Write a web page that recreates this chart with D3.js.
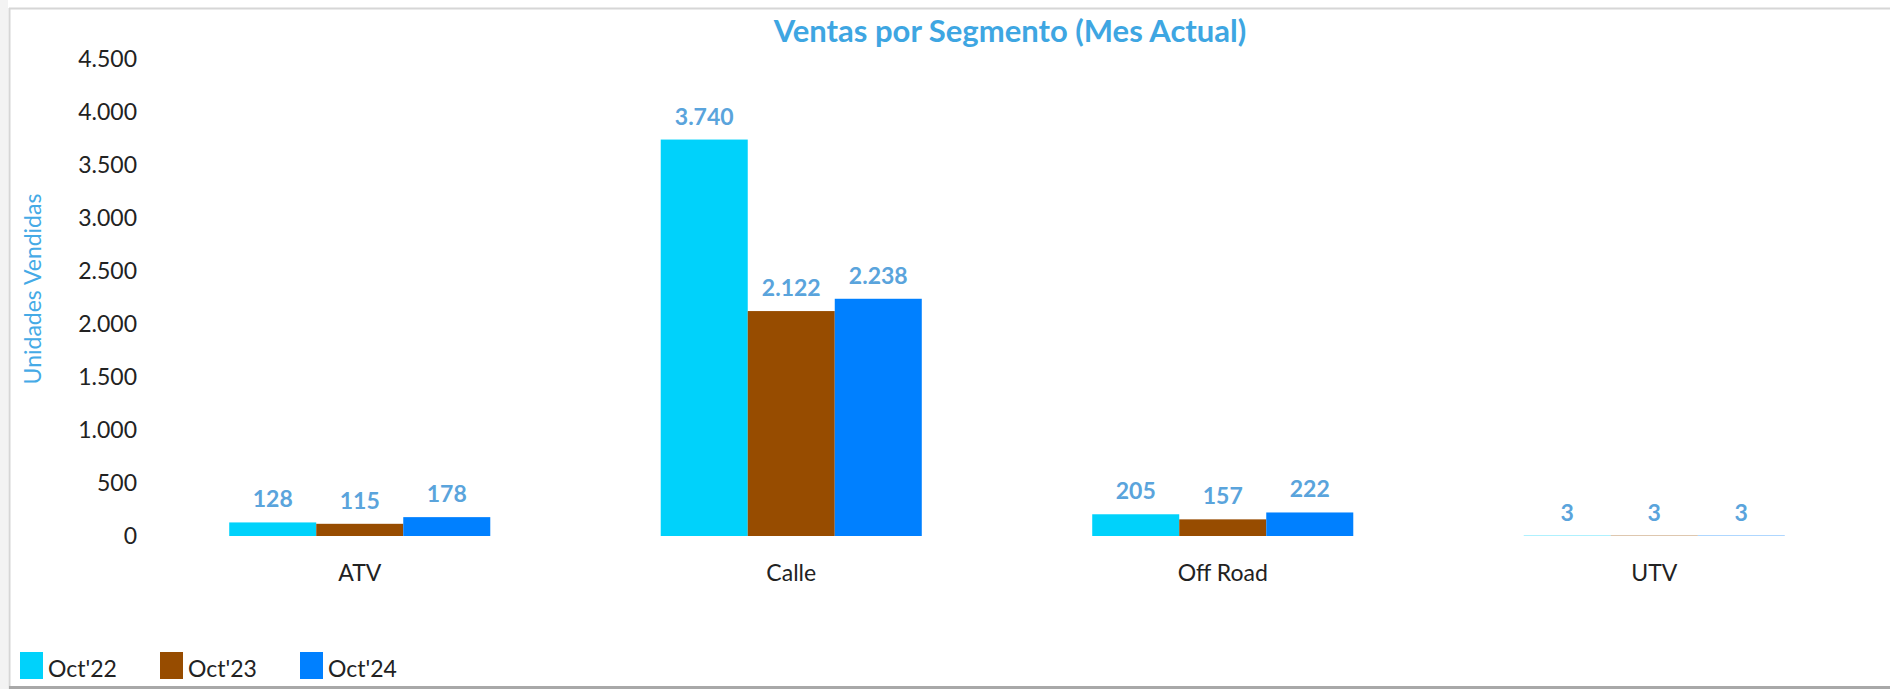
<!DOCTYPE html>
<html>
<head>
<meta charset="utf-8">
<script src="https://cdn.jsdelivr.net/npm/d3@7"></script>
<style>
  body { margin: 0; background: #ffffff; }
  svg text { font-family: Lato, "Open Sans", sans-serif; }
</style>
</head>
<body>
<div id="chart_div"></div>
<script>
// data
const segments = ["ATV", "Calle", "Off Road", "UTV"];
const series_names = ["Oct'22", "Oct'23", "Oct'24"];
const oct22 = [128, 3740, 205, 3];
const oct23 = [115, 2122, 157, 3];
const oct24 = [178, 2238, 222, 3];
const y_ticks = [0, 500, 1000, 1500, 2000, 2500, 3000, 3500, 4000, 4500];

const series_values = [oct22, oct23, oct24];
const series_colors = ["#00d2fb", "#974c00", "#0080ff"];

const width = 1890, height = 689;

const svg = d3.select("#chart_div")
  .append("svg")
    .attr("width", width)
    .attr("height", height);

// frame
svg.append("rect").attr("x", 0).attr("y", 0).attr("width", 8).attr("height", height).attr("fill", "#f3f3f3");
svg.append("line").attr("x1", 9).attr("x2", width).attr("y1", 8.5).attr("y2", 8.5)
  .attr("stroke", "#d6d6d6").attr("stroke-width", 2);
svg.append("line").attr("x1", 9.5).attr("x2", 9.5).attr("y1", 8).attr("y2", height)
  .attr("stroke", "#d6d6d6").attr("stroke-width", 2);
svg.append("rect").attr("x", 9).attr("y", 686).attr("width", width).attr("height", 3).attr("fill", "#a8a8a8");

// scales
const x = d3.scaleBand()
  .domain(segments)
  .range([144, 1870])
  .paddingInner(0.395)
  .paddingOuter(0.1975);

const x1 = d3.scaleBand()
  .domain(series_names)
  .range([0, x.bandwidth()]);

const y = d3.scaleLinear()
  .domain([0, 4500])
  .range([536, 59]);

const es = d3.formatLocale({decimal: ",", thousands: ".", grouping: [3], currency: ["", ""]});
const fmt = es.format(",d");

// title
svg.append("text")
  .attr("x", 1010)
  .attr("y", 30)
  .attr("text-anchor", "middle")
  .attr("dominant-baseline", "central")
  .style("font-size", "31px")
  .style("font-weight", "bold")
  .style("fill", "#3ea6e2")
  .text("Ventas por Segmento (Mes Actual)");

// y axis
const yAxis = svg.append("g")
  .attr("transform", "translate(145,0)")
  .call(d3.axisLeft(y).tickValues(y_ticks).tickSize(0).tickPadding(8).tickFormat(fmt));
yAxis.select(".domain").remove();
yAxis.selectAll("text").style("font-size", "23px").style("fill", "#222");

svg.append("text")
  .attr("transform", "translate(32,289) rotate(-90)")
  .attr("text-anchor", "middle")
  .attr("dominant-baseline", "central")
  .style("font-size", "23px")
  .style("fill", "#45aae6")
  .text("Unidades Vendidas");

// x axis
const xAxis = svg.append("g")
  .attr("transform", "translate(0,536)")
  .call(d3.axisBottom(x).tickSize(0).tickPadding(29));
xAxis.select(".domain").remove();
xAxis.selectAll("text").style("font-size", "23px").style("fill", "#222");

// bars
const rows = [];
segments.forEach((s, i) => {
  series_names.forEach((n, j) => {
    rows.push({segment: s, series: n, value: series_values[j][i], color: series_colors[j]});
  });
});

svg.append("g")
  .selectAll("rect")
  .data(rows)
  .join("rect")
    .attr("x", d => x(d.segment) + x1(d.series))
    .attr("y", d => y(d.value))
    .attr("width", x1.bandwidth())
    .attr("height", d => y(0) - y(d.value))
    .attr("fill", d => d.color);

svg.append("g")
  .selectAll("text")
  .data(rows)
  .join("text")
    .attr("x", d => x(d.segment) + x1(d.series) + x1.bandwidth() / 2)
    .attr("y", d => y(d.value) - 15)
    .attr("text-anchor", "middle")
    .style("font-size", "23px")
    .style("font-weight", "bold")
    .style("fill", "#5aa4dc")
    .text(d => fmt(d.value));

// legend
const legend = svg.append("g")
  .selectAll("g")
  .data(series_names)
  .join("g")
    .attr("transform", (d, i) => `translate(${20 + i * 140},652)`);
legend.append("rect")
  .attr("width", 23)
  .attr("height", 27)
  .attr("fill", (d, i) => series_colors[i]);
legend.append("text")
  .attr("x", 28)
  .attr("y", 25)
  .style("font-size", "23px")
  .style("fill", "#222")
  .text(d => d);
</script>
</body>
</html>
